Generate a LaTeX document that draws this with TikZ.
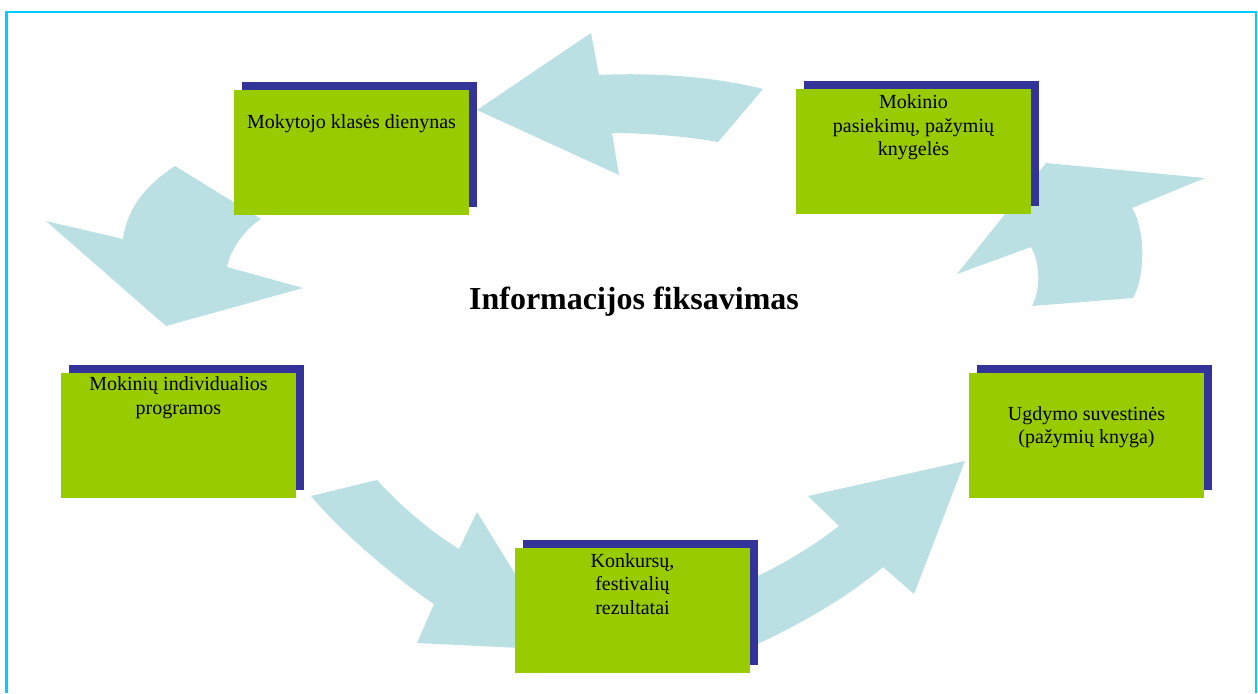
\documentclass[tikz,border=0pt]{standalone}
\usepackage{fontspec}
\setmainfont{Liberation Serif}
\usetikzlibrary{positioning, shadows}
\definecolor{boxgreen}{RGB}{153,204,0}
\definecolor{boxnavy}{RGB}{51,51,153}
\definecolor{arrowblue}{RGB}{187,224,227}
\definecolor{framecyan}{RGB}{0,204,255}

\begin{document}
\begin{tikzpicture}[
  x=0.5pt, y=-0.5pt,
  box/.style={fill=boxgreen, inner sep=0pt,
    minimum width=117.5pt, minimum height=62.5pt,
    drop shadow={shadow xshift=4pt, shadow yshift=4pt, fill=boxnavy, opacity=1}},
  boxtext/.style={align=center, inner sep=0pt,
    font=\fontsize{10}{11.75}\selectfont},
  bigarrow/.style={fill=arrowblue}
]
  \useasboundingbox (0,0) rectangle (1258,693);

  % frame
  \draw[framecyan, line width=1.2pt] (6.5,693) -- (6.5,12) -- (1256,12) -- (1256,693);

  % block arrows of the cycle
  \fill[bigarrow] (477,110) -- (591,33) -- (599,75)
    .. controls (660,72) and (720,78) .. (763,89) -- (718,142)
    .. controls (690,137) and (650,133) .. (612,133) -- (619,175) -- cycle;
  \fill[bigarrow] (175,166) -- (261,219)
    .. controls (245,229) and (230,250) .. (227,267) -- (303,288)
    -- (166,326) -- (46,221) -- (123,239)
    .. controls (128,205) and (148,184) .. (175,166) -- cycle;
  \fill[bigarrow] (1046,163) -- (1205,178) -- (1132,208)
    .. controls (1145,228) and (1146,275) .. (1133,298) -- (1032,306)
    .. controls (1041,290) and (1040,262) .. (1031,247) -- (957,274) -- cycle;
  \fill[bigarrow] (311,496) -- (377,480)
    .. controls (395,500) and (425,528) .. (459,549) -- (477,512)
    -- (562,650) -- (417,643) -- (434,604)
    .. controls (405,585) and (345,537) .. (311,496) -- cycle;
  \fill[bigarrow] (740,584)
    .. controls (775,569) and (808,550) .. (839,526) -- (808,496)
    -- (965,461) -- (914,594) -- (883,567)
    .. controls (850,595) and (805,623) .. (740,652) -- cycle;

  % boxes
  \node[box] (dienynas)   at (351.5,152.5) {};
  \node[box] (knygeles)   at (913.5,151.5) {};
  \node[box] (programos)  at (178.5,435)   {};
  \node[box] (suvestines) at (1086.5,435)  {};
  \node[box] (konkursai)  at (632.5,610)   {};

  \node[boxtext, below=12.5pt of dienynas.north] (tdienynas) {Mokytojo klasės dienynas};
  \node[boxtext, below=3pt of knygeles.north] (tknygeles) {Mokinio\\pasiekimų, pažymių\\knygelės};
  \node[boxtext, below=2.3pt of programos.north] (tprogramos) {Mokinių individualios\\programos};
  \node[boxtext, below=17pt of suvestines.north] (tsuvestines) {Ugdymo suvestinės\\(pažymių knyga)};
  \node[boxtext, below=3pt of konkursai.north] (tkonkursai) {Konkursų,\\festivalių\\rezultatai};

  \node[font=\fontsize{16}{19}\selectfont\bfseries] (title) at (634,302) {Informacijos fiksavimas};
\end{tikzpicture}
\end{document}
